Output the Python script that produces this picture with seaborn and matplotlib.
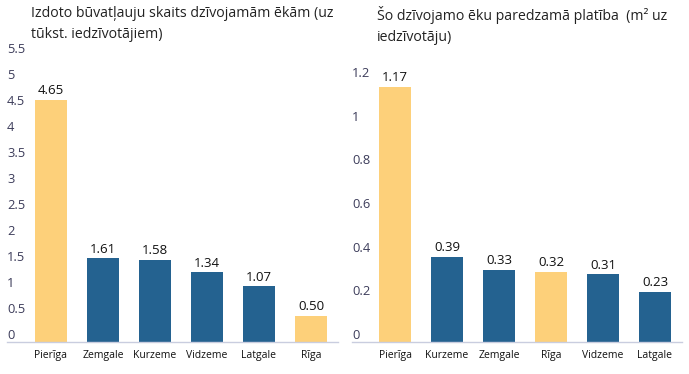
import matplotlib
matplotlib.use("Agg")
import matplotlib.pyplot as plt
import seaborn as sns

# data
left_regions = ["Pierīga", "Zemgale", "Kurzeme", "Vidzeme", "Latgale", "Rīga"]
left_values = [4.65, 1.61, 1.58, 1.34, 1.07, 0.50]
left_ticks = [0, 0.5, 1, 1.5, 2, 2.5, 3, 3.5, 4, 4.5, 5, 5.5]
left_ticklabels = ["0", "0.5", "1", "1.5", "2", "2.5", "3", "3.5", "4", "4.5", "5", "5.5"]

right_regions = ["Pierīga", "Kurzeme", "Zemgale", "Rīga", "Vidzeme", "Latgale"]
right_values = [1.17, 0.39, 0.33, 0.32, 0.31, 0.23]
right_ticks = [0, 0.2, 0.4, 0.6, 0.8, 1, 1.2]
right_ticklabels = ["0", "0.2", "0.4", "0.6", "0.8", "1", "1.2"]

left_title = "Izdoto būvatļauju skaits dzīvojamām ēkām (uz\ntūkst. iedzīvotājiem)"
right_title = "Šo dzīvojamo ēku paredzamā platība  (m² uz\niedzīvotāju)"

YELLOW = "#fdd07a"
BLUE = "#246290"
highlight = ["Pierīga", "Rīga"]

sns.set_style("white")
plt.rcParams["font.family"] = ["Open Sans", "DejaVu Sans"]

fig = plt.figure(figsize=(6.89, 3.74), dpi=100)
ax1 = fig.add_axes([7 / 689, 1 - 342 / 374, 331 / 689, (342 - 56) / 374])
ax2 = fig.add_axes([352 / 689, 1 - 342 / 374, 330 / 689, (342 - 80) / 374])


def draw(ax, regions, values, ticks, ticklabels, ymax, xleft):
    pal = {r: (YELLOW if r in highlight else BLUE) for r in regions}
    sns.barplot(x=regions, y=values, hue=regions, palette=pal, legend=False,
                width=0.615, saturation=1, linewidth=0, ax=ax)
    ax.set_xlim(xleft, 5.52)
    ax.set_ylim(0, ymax)
    for c in ax.containers:
        ax.bar_label(c, fmt="%.2f", padding=2, fontsize=9.5, color="#111111")
    ax.set_yticks(ticks)
    ax.set_yticklabels(ticklabels)
    ax.tick_params(axis="y", length=0, pad=0, labelsize=9.3, labelcolor="#3c3c5a")
    ax.tick_params(axis="x", length=0, pad=6, labelsize=7.5, labelcolor="#111111")
    # tick labels sit inside the axes, just above their tick value
    for t in ax.yaxis.get_major_ticks():
        t.label1.set_horizontalalignment("left")
        t.label1.set_verticalalignment("bottom")
    for s in ["top", "right", "left"]:
        ax.spines[s].set_visible(False)
    ax.spines["bottom"].set_color("#c9cddf")
    ax.spines["bottom"].set_linewidth(1)
    ax.set_xlabel("")
    ax.set_ylabel("")


draw(ax1, left_regions, left_values, left_ticks, left_ticklabels, 5.5, -0.846)
draw(ax2, right_regions, right_values, right_ticks, right_ticklabels, 1.2, -0.83)

fig.text(31 / 689, 1 - 6 / 374, left_title, ha="left", va="top", fontsize=10.2,
         color="#222222", linespacing=1.55)
fig.text(377 / 689, 1 - 6 / 374, right_title, ha="left", va="top", fontsize=10.2,
         color="#222222", linespacing=1.55)

fig.savefig("out.png", dpi=100)
